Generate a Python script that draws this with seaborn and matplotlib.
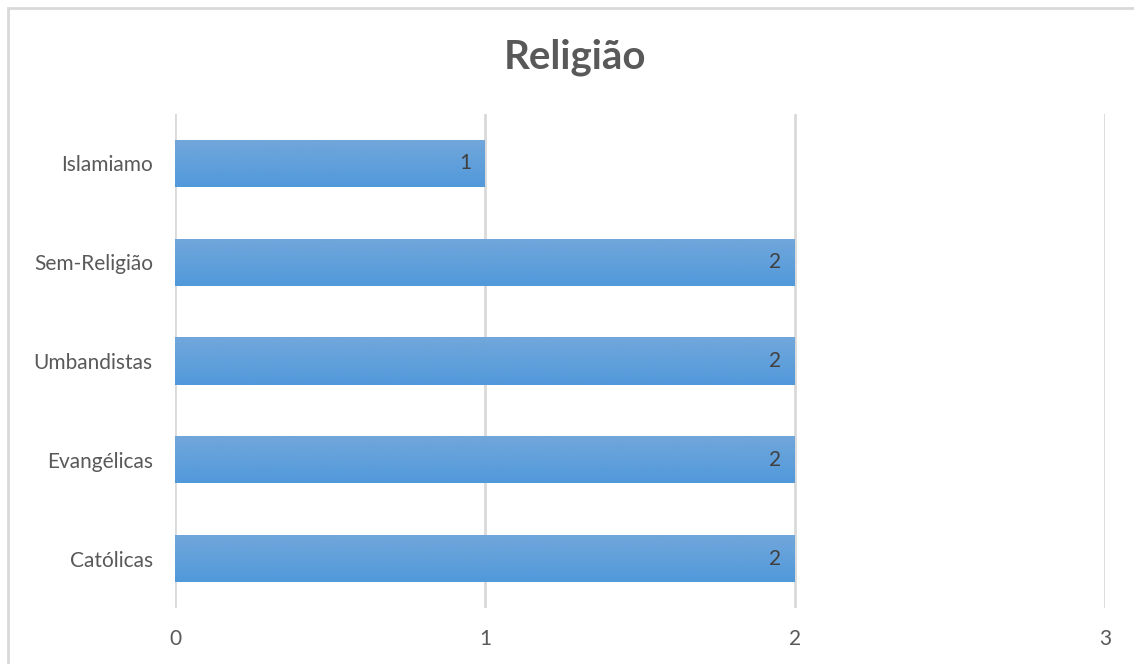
import numpy as np
import pandas as pd
import matplotlib
matplotlib.use("Agg")
import matplotlib.pyplot as plt
from matplotlib.patches import Rectangle
from matplotlib.colors import LinearSegmentedColormap
import seaborn as sns

categories = ["Islamiamo", "Sem-Religião", "Umbandistas", "Evangélicas", "Católicas"]
values = [1, 2, 2, 2, 2]
xticks = [0, 1, 2, 3]
title = "Religião"

sns.set_theme(style="white")
plt.rcParams["font.family"] = ["Lato", "DejaVu Sans"]

df = pd.DataFrame({"cat": categories, "val": values})

W, H = 1134, 664
fig = plt.figure(figsize=(W / 100, H / 100), dpi=100)
ax = fig.add_axes([175 / W, 1 - 608 / H, (1105 - 175) / W, (608 - 114) / H])

sns.barplot(data=df, x="val", y="cat", orient="h", color="#5b9bd5",
            width=0.476, ax=ax, saturation=1)

# gradient fill inside each bar
grad = np.linspace(0, 1, 256).reshape(-1, 1)
cmap = LinearSegmentedColormap.from_list("g", ["#72a7db", "#5199db"])
for p in list(ax.patches):
    x0, y0 = p.get_x(), p.get_y()
    w, h = p.get_width(), p.get_height()
    im = ax.imshow(grad, cmap=cmap, aspect="auto",
                   extent=[x0, x0 + w, y0 + h, y0], origin="upper",
                   zorder=3, interpolation="bilinear")
    im.set_clip_path(p)
    p.set_edgecolor("none")

ax.set_xlim(0, 3)
ax.set_ylim(len(categories) - 0.5, -0.5)
ax.set_xticks(xticks)
ax.set_xticklabels([str(t) for t in xticks])
ax.xaxis.grid(True, color="#d9d9d9", linewidth=2)
ax.set_axisbelow(True)
for s in ax.spines.values():
    s.set_visible(False)
ax.set_xlabel("")
ax.set_ylabel("")
ax.tick_params(axis="both", length=0, labelsize=15, colors="#595959")
ax.tick_params(axis="y", pad=16)
ax.tick_params(axis="x", pad=15)

for i, v in enumerate(values):
    ax.annotate(str(v), xy=(v, i), xytext=(-10, 0), textcoords="offset points",
                ha="right", va="center", fontsize=15, color="#404040", zorder=5)

fig.text(575 / W, 1 - 57 / H, title, ha="center", va="center",
         fontsize=29, fontweight="bold", color="#595959")

fig.patches.append(Rectangle((8 / W, -0.1), 1.2, 1 - 8 / H + 0.1,
                             transform=fig.transFigure, fill=False,
                             edgecolor="#d9d9d9", linewidth=2))

fig.savefig("out.png", dpi=100, facecolor="white")
